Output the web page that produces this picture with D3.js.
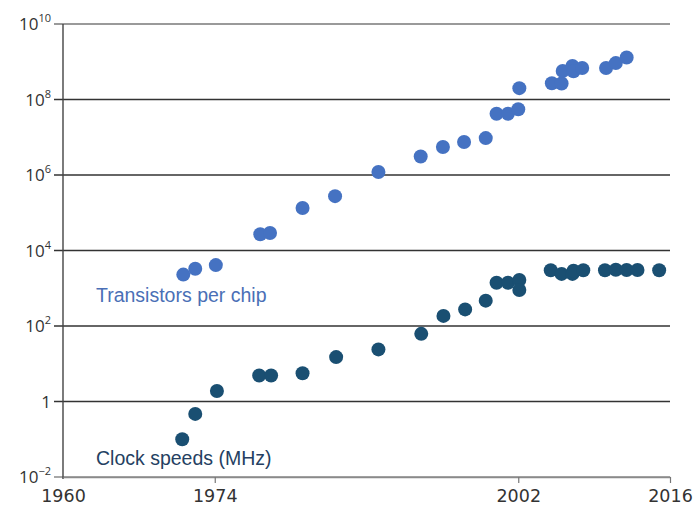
<!DOCTYPE html>
<html>
<head>
<meta charset="utf-8">
<script src="https://cdn.jsdelivr.net/npm/d3@7"></script>
<style>
  html, body { margin: 0; padding: 0; background: #fff; }
  svg { display: block; font-family: "DejaVu Sans", "Open Sans", sans-serif; }
</style>
</head>
<body>
<svg id="chart" width="696" height="508"></svg>
<script>
// Transistors per chip (year, count)
const transistorYears = [1971.1, 1972.2, 1974.1, 1978.2, 1979.1, 1982.1, 1985.1, 1989.1,
  1993.0, 1995.05, 1997.0, 1999.0, 2000.0, 2001.05, 2002.0, 2002.1,
  2005.1, 2006.0, 2006.1, 2007.0, 2007.1, 2007.9, 2010.1, 2011.0, 2012.0];
const transistorCounts = [2300, 3300, 4100, 27000, 29000, 134000, 275000, 1.2e6,
  3.1e6, 5.5e6, 7.5e6, 9.5e6, 4.2e7, 4.2e7, 5.5e7, 2.0e8,
  2.7e8, 2.65e8, 5.7e8, 7.7e8, 5.6e8, 6.8e8, 6.8e8, 9.2e8, 1.3e9];

// Clock speeds in MHz (year, speed)
const clockYears = [1971.0, 1972.2, 1974.2, 1978.1, 1979.2, 1982.1, 1985.2, 1989.1,
  1993.05, 1995.1, 1997.1, 1999.0, 2000.0, 2001.05, 2002.1, 2002.1,
  2005.0, 2006.0, 2007.0, 2007.1, 2008.0, 2010.0, 2011.0, 2012.0, 2013.0, 2015.0];
const clockSpeeds = [0.1, 0.47, 1.9, 4.9, 4.9, 5.6, 15, 24,
  62, 185, 275, 470, 1400, 1400, 1660, 900,
  3000, 2400, 2400, 2900, 3000, 3000, 3100, 3050, 3050, 3000];

const yearTicks = [1960, 1974, 2002, 2016];
const powerTicks = [-2, 0, 2, 4, 6, 8, 10];

const svg = d3.select("#chart");
const x = d3.scaleLinear().domain([1960, 2016]).range([63, 670]);
const y = d3.scaleLog().domain([1e-2, 1e10]).range([477, 24]);

// horizontal gridlines
svg.append("g")
  .selectAll("line")
  .data(powerTicks)
  .join("line")
  .attr("x1", 54)
  .attr("x2", x(2016))
  .attr("y1", d => y(Math.pow(10, d)))
  .attr("y2", d => y(Math.pow(10, d)))
  .attr("stroke", d => d === 10 ? "#9a9a9a" : (d === -2 ? "#8a8a8a" : "#333"))
  .attr("stroke-width", d => d === 10 ? 2 : 1.4);

// vertical axis line
svg.append("line")
  .attr("x1", x(1960)).attr("x2", x(1960))
  .attr("y1", y(1e10)).attr("y2", y(1e-2) + 2)
  .attr("stroke", "#444").attr("stroke-width", 1.4);

// y tick labels with superscript exponents
const yLabels = svg.append("g")
  .selectAll("text")
  .data(powerTicks)
  .join("text")
  .attr("x", 51)
  .attr("y", d => y(Math.pow(10, d)) + 6)
  .attr("text-anchor", "end")
  .attr("fill", "#333")
  .attr("font-family", "\"Open Sans\", sans-serif")
  .attr("font-size", 17);
yLabels.each(function(d) {
  const t = d3.select(this);
  if (d === 0) { t.text("1"); return; }
  t.append("tspan").text("10");
  t.append("tspan").attr("font-size", 11).attr("dy", -8)
    .text(d < 0 ? "\u2212" + Math.abs(d) : String(d));
});

// x axis
const xAxis = d3.axisBottom(x)
  .tickValues(yearTicks)
  .tickSize(6)
  .tickSizeOuter(0)
  .tickFormat(d3.format("d"));
const gx = svg.append("g")
  .attr("transform", `translate(0,${y(1e-2)})`)
  .call(xAxis);
gx.select(".domain").attr("stroke", "#8a8a8a").attr("stroke-width", 1.4);
gx.selectAll(".tick line").attr("stroke", "#777").attr("stroke-width", 1.2)
  .attr("opacity", d => d === 1960 ? 0 : 1);
gx.selectAll(".tick text")
  .attr("font-family", "\"DejaVu Sans\", sans-serif")
  .attr("font-size", 17.5).attr("fill", "#333").attr("dy", "0.92em");

// dots
svg.append("g")
  .selectAll("circle")
  .data(d3.zip(transistorYears, transistorCounts))
  .join("circle")
  .attr("cx", d => x(d[0]))
  .attr("cy", d => y(d[1]))
  .attr("r", 7)
  .attr("fill", "#4572c2");

svg.append("g")
  .selectAll("circle")
  .data(d3.zip(clockYears, clockSpeeds))
  .join("circle")
  .attr("cx", d => x(d[0]))
  .attr("cy", d => y(d[1]))
  .attr("r", 7)
  .attr("fill", "#1a4f72");

// series labels
svg.append("text")
  .attr("x", 96).attr("y", 301.5)
  .attr("font-family", "\"Liberation Sans\", Arial, sans-serif")
  .attr("font-size", 19.5).attr("fill", "#4a6fb6")
  .text("Transistors per chip");
svg.append("text")
  .attr("x", 96).attr("y", 465)
  .attr("font-family", "\"Liberation Sans\", Arial, sans-serif")
  .attr("font-size", 19.5).attr("fill", "#253f62")
  .text("Clock speeds (MHz)");
</script>
</body>
</html>
